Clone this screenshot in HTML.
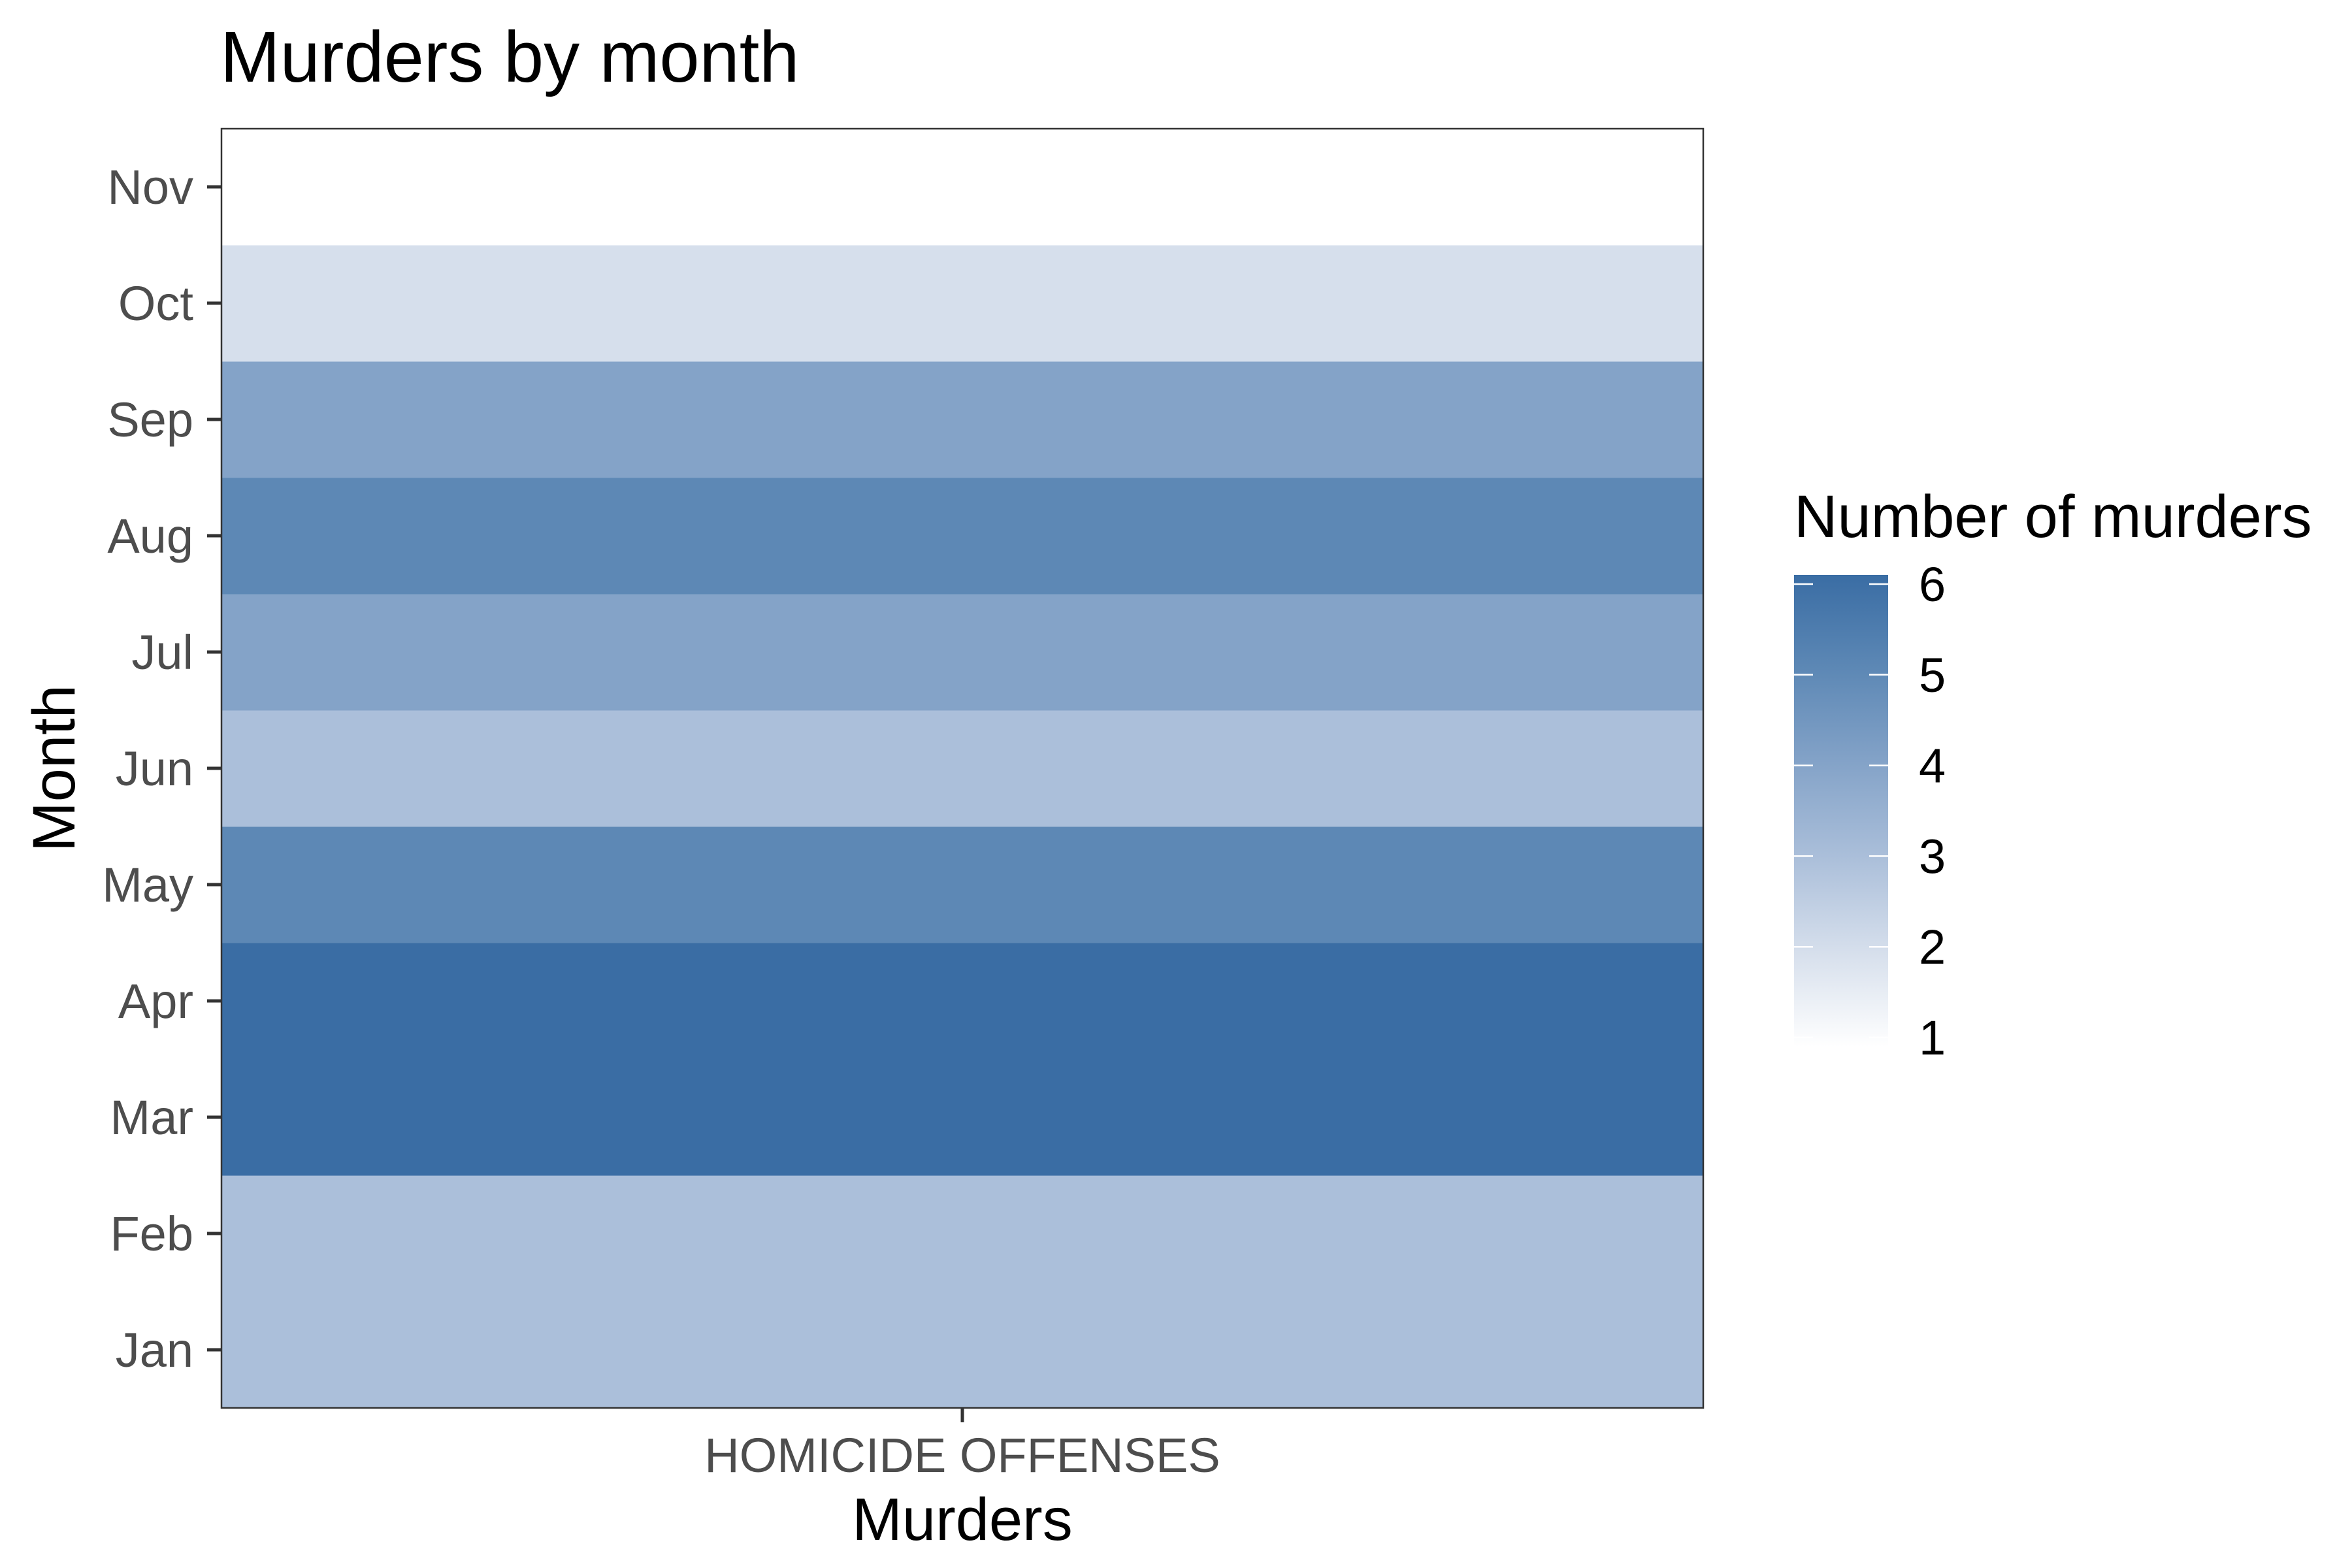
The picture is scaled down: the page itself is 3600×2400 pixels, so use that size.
<!DOCTYPE html>
<html><head><meta charset="utf-8"><style>
html,body{margin:0;padding:0;background:#fff;}
svg{display:block;font-family:"Liberation Sans",Arial,sans-serif;}
</style></head><body>
<svg id="chart" width="3600" height="2400" viewBox="0 0 3600 2400" xmlns="http://www.w3.org/2000/svg">
<rect width="3600" height="2400" fill="#fff"/>
<text x="337" y="125" font-size="110" fill="#000">Murders by month</text>
<g id="cells"></g>
<rect x="339" y="197" width="2268" height="1958" fill="none" stroke="#333" stroke-width="2.5"/>
<g id="yaxis"></g>
<line x1="1473" y1="2155" x2="1473" y2="2177" stroke="#333" stroke-width="5"/>
<text x="1473" y="2253" font-size="74" fill="#4d4d4d" text-anchor="middle">HOMICIDE OFFENSES</text>
<text x="1473" y="2357" font-size="92" fill="#000" text-anchor="middle">Murders</text>
<text transform="translate(114,1176) rotate(-90)" font-size="92" fill="#000" text-anchor="middle">Month</text>
<text x="2746" y="822" font-size="92" fill="#000">Number of murders</text>
<defs><linearGradient id="lg" x1="0" y1="1" x2="0" y2="0">
<stop offset="0" stop-color="#ffffff"/><stop offset="0.2" stop-color="#d6dfec"/><stop offset="0.4" stop-color="#abbfda"/><stop offset="0.6" stop-color="#84a3c8"/><stop offset="0.8" stop-color="#5d88b5"/><stop offset="1" stop-color="#3a6da4"/></linearGradient></defs>
<rect x="2746" y="880" width="144" height="722" fill="url(#lg)"/>
<g id="legend"></g>
</svg>
<script>
const months = ["Jan","Feb","Mar","Apr","May","Jun","Jul","Aug","Sep","Oct","Nov"];
const counts = [3,3,6,6,5,3,4,5,4,2,1];
const legendTicks = [1,2,3,4,5,6];
const stops = ["#ffffff","#d6dfec","#abbfda","#84a3c8","#5d88b5","#3a6da4"];
const NS="http://www.w3.org/2000/svg";
const pTop=197,pBottom=2155,pLeft=339,pRight=2607;
const bandH=(pBottom-pTop)/months.length;
const yPos=i=>pBottom-(i+0.5)*bandH;
function hex(c){return [1,3,5].map(k=>parseInt(c.substr(k,2),16));}
function color(v){
  const t=Math.max(0,Math.min(5,(v-1)));const i=Math.min(4,Math.floor(t));const f=t-i;
  const a=hex(stops[i]),b=hex(stops[i+1]);
  return "rgb("+a.map((x,k)=>Math.round(x+(b[k]-x)*f)).join(",")+")";
}
const cells=document.getElementById("cells"),ya=document.getElementById("yaxis"),lg=document.getElementById("legend");
months.forEach((m,i)=>{
  const r=document.createElementNS(NS,"rect");
  r.setAttribute("x",pLeft);r.setAttribute("y",yPos(i)-bandH/2);
  r.setAttribute("width",pRight-pLeft);r.setAttribute("height",bandH+0.5);
  r.setAttribute("fill",color(counts[i]));
  
  
  cells.appendChild(r);
  const l=document.createElementNS(NS,"line");
  l.setAttribute("x1",317);l.setAttribute("x2",339);l.setAttribute("y1",yPos(i));l.setAttribute("y2",yPos(i));
  l.setAttribute("stroke","#333");l.setAttribute("stroke-width","5");
  
  
  ya.appendChild(l);
  const t=document.createElementNS(NS,"text");
  t.setAttribute("x",296);t.setAttribute("y",yPos(i)+26);t.setAttribute("font-size","74");
  t.setAttribute("fill","#4d4d4d");t.setAttribute("text-anchor","end");t.textContent=m;
  
  
  ya.appendChild(t);
});
const lyTop=894,lyBot=1588;
const ly=v=>lyBot-(v-1)/5*(lyBot-lyTop);
legendTicks.forEach(v=>{
  [[2746,2775],[2861,2890]].forEach(([a,b])=>{
    const l=document.createElementNS(NS,"line");
    l.setAttribute("x1",a);l.setAttribute("x2",b);l.setAttribute("y1",ly(v));l.setAttribute("y2",ly(v));
    l.setAttribute("stroke","#fff");l.setAttribute("stroke-width","2.5");
    
    
    lg.appendChild(l);
  });
  const t=document.createElementNS(NS,"text");
  t.setAttribute("x",2937);t.setAttribute("y",ly(v)+26);t.setAttribute("font-size","74");
  t.setAttribute("fill","#000");t.textContent=v;
  
  
  lg.appendChild(t);
});
</script>
</body></html>
